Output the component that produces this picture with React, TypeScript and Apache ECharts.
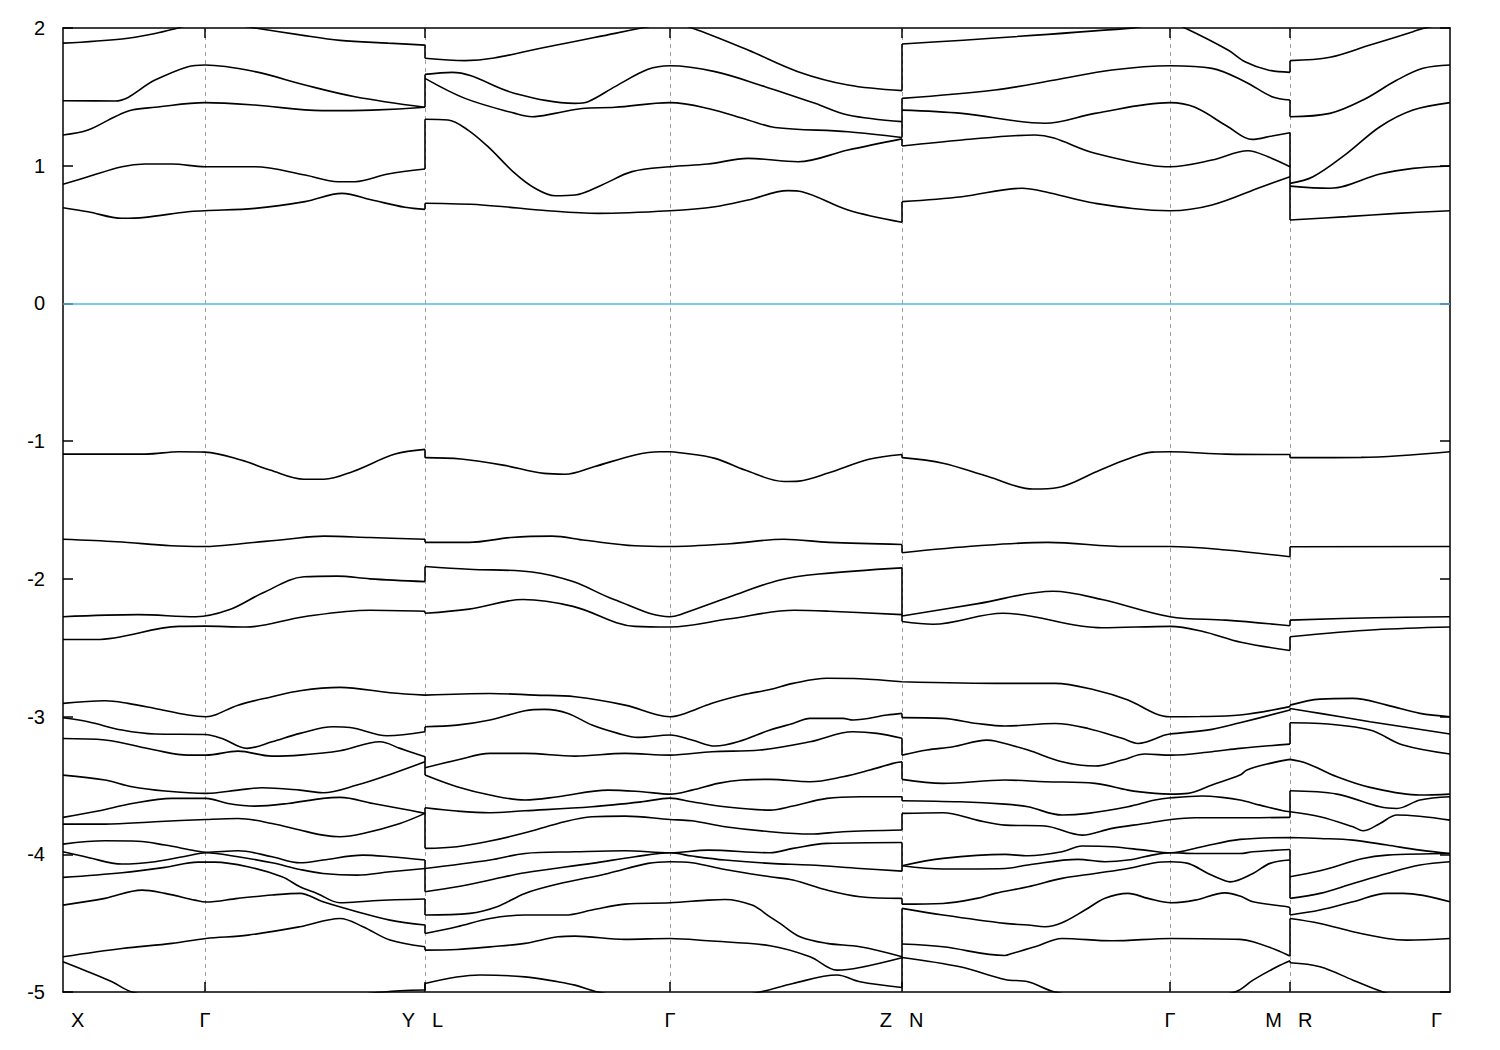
import React, { useEffect, useRef } from "react";
import * as echarts from "echarts";

type Pt = [number, number];

// k-path positions of the high-symmetry points
const kMin = 0;
const kMax = 13.87;
const symLines = [1.42, 3.62, 6.07, 8.39, 11.07, 12.27];
const xLabelText = ["X", "Γ", "Y", "L", "Γ", "Z", "N", "Γ", "M", "R", "Γ"];
const xLabelK = [0, 1.42, 3.62, 3.62, 6.07, 8.39, 8.39, 11.07, 12.27, 12.27, 13.87];
const yMin = -5;
const yMax = 2;
const fermiLevel = 0;

// Bands: each is four k-path pieces (X-Γ-Y, L-Γ-Z, N-Γ-M, R-Γ), energies in eV
const bandA: Pt[][] = [
  [[0, 1.89], [0.59, 1.92], [0.92, 1.96], [1.15, 2.0], [1.42, 2.05], [1.92, 2.0], [2.37, 1.95], [2.77, 1.91], [3.25, 1.89], [3.62, 1.876]],
  [[3.62, 1.78], [4.02, 1.763], [4.85, 1.864], [5.52, 1.961], [5.82, 2.005], [6.07, 2.04], [6.29, 2.0], [6.85, 1.84], [7.35, 1.683], [7.85, 1.586], [8.39, 1.545]],
  [[8.39, 1.884], [10.65, 1.997], [11.07, 2.04], [11.22, 2.0], [11.65, 1.84], [11.82, 1.755], [12.05, 1.695], [12.27, 1.678]],
  [[12.27, 1.763], [12.67, 1.787], [13.07, 1.876], [13.5, 1.973], [13.6, 1.997], [13.87, 2.04]],
];
const bandB: Pt[][] = [
  [[0, 1.472], [0.52, 1.47], [0.92, 1.622], [1.25, 1.719], [1.42, 1.731], [1.92, 1.683], [2.42, 1.586], [2.92, 1.501], [3.62, 1.424]],
  [[3.62, 1.663], [3.89, 1.678], [4.52, 1.525], [5.12, 1.453], [5.25, 1.465], [5.52, 1.574], [5.85, 1.7], [6.07, 1.726], [6.52, 1.683], [7.02, 1.574], [7.52, 1.453], [7.85, 1.368], [8.39, 1.32]],
  [[8.39, 1.489], [9.32, 1.55], [9.92, 1.622], [10.49, 1.695], [11.07, 1.726], [11.49, 1.707], [11.82, 1.61], [12.09, 1.501], [12.27, 1.477]],
  [[12.27, 1.356], [12.67, 1.38], [13.0, 1.477], [13.34, 1.622], [13.6, 1.707], [13.87, 1.731]],
];
const bandC: Pt[][] = [
  [[0, 1.223], [0.25, 1.259], [0.52, 1.356], [0.69, 1.404], [0.92, 1.424], [1.42, 1.458], [1.92, 1.441], [2.59, 1.4], [3.09, 1.404], [3.62, 1.424]],
  [[3.62, 1.634], [4.02, 1.489], [4.52, 1.38], [4.69, 1.356], [4.92, 1.38], [5.19, 1.416], [5.52, 1.424], [6.07, 1.458], [6.45, 1.416], [6.85, 1.332], [7.12, 1.278], [7.85, 1.247], [8.39, 1.205]],
  [[8.39, 1.404], [8.99, 1.38], [9.82, 1.308], [10.32, 1.38], [11.07, 1.458], [11.32, 1.424], [11.65, 1.283], [11.89, 1.191], [12.09, 1.216], [12.27, 1.24]],
  [[12.27, 0.872], [12.5, 0.92], [12.84, 1.09], [13.17, 1.283], [13.5, 1.404], [13.87, 1.458]],
];
const bandD: Pt[][] = [
  [[0, 0.865], [0.25, 0.92], [0.59, 0.993], [0.82, 1.012], [1.09, 1.012], [1.42, 0.993], [1.92, 0.993], [2.42, 0.932], [2.75, 0.884], [2.92, 0.884], [3.25, 0.94], [3.62, 0.976]],
  [[3.62, 1.337], [3.85, 1.332], [4.05, 1.259], [4.25, 1.138], [4.52, 0.944], [4.72, 0.836], [4.92, 0.782], [5.12, 0.787], [5.39, 0.86], [5.69, 0.957], [6.07, 0.993], [6.45, 1.012], [6.85, 1.053], [7.35, 1.029], [7.85, 1.114], [8.39, 1.195]],
  [[8.39, 1.143], [8.99, 1.187], [9.72, 1.223], [10.32, 1.09], [10.92, 0.998], [11.07, 0.993], [11.49, 1.041], [11.85, 1.109], [12.05, 1.065], [12.27, 0.993]],
  [[12.27, 0.852], [12.67, 0.836], [13.17, 0.94], [13.5, 0.981], [13.87, 0.998]],
];
const bandE: Pt[][] = [
  [[0, 0.695], [0.25, 0.666], [0.59, 0.618], [0.82, 0.625], [1.25, 0.666], [1.42, 0.673], [1.92, 0.69], [2.42, 0.739], [2.79, 0.799], [3.09, 0.751], [3.42, 0.698], [3.62, 0.683]],
  [[3.62, 0.727], [4.19, 0.715], [4.85, 0.673], [5.35, 0.654], [6.07, 0.673], [6.52, 0.702], [6.85, 0.751], [7.25, 0.819], [7.39, 0.811], [7.85, 0.678], [8.39, 0.589]],
  [[8.39, 0.739], [8.99, 0.775], [9.59, 0.836], [9.82, 0.811], [10.32, 0.727], [11.07, 0.673], [11.49, 0.715], [11.99, 0.848], [12.27, 0.92]],
  [[12.27, 0.606], [12.84, 0.63], [13.34, 0.654], [13.87, 0.673]],
];
const bandF: Pt[][] = [
  [[0, -1.094], [0.83, -1.094], [1.16, -1.077], [1.42, -1.08], [1.78, -1.137], [2.07, -1.21], [2.41, -1.277], [2.61, -1.277], [2.9, -1.22], [3.32, -1.094], [3.62, -1.06]],
  [[3.62, -1.12], [3.98, -1.13], [4.4, -1.174], [4.81, -1.234], [5.02, -1.24], [5.31, -1.186], [5.72, -1.1], [5.97, -1.077], [6.07, -1.077], [6.17, -1.084], [6.52, -1.125], [6.82, -1.21], [7.21, -1.293], [7.36, -1.29], [7.66, -1.23], [8.06, -1.132], [8.39, -1.097]],
  [[8.39, -1.12], [8.8, -1.16], [9.25, -1.257], [9.7, -1.348], [9.95, -1.337], [10.34, -1.22], [10.64, -1.132], [10.89, -1.08], [11.07, -1.077], [11.63, -1.094], [12.27, -1.097]],
  [[12.27, -1.12], [12.98, -1.118], [13.87, -1.077]],
];
const bandG: Pt[][] = [
  [[0, -1.712], [0.54, -1.73], [1.08, -1.76], [1.42, -1.765], [1.78, -1.745], [2.24, -1.712], [2.61, -1.69], [3.07, -1.7], [3.62, -1.712]],
  [[3.62, -1.735], [4.06, -1.735], [4.48, -1.7], [4.89, -1.69], [5.22, -1.72], [5.72, -1.76], [6.07, -1.765], [6.67, -1.745], [7.21, -1.712], [7.66, -1.735], [8.39, -1.75]],
  [[8.39, -1.81], [9.15, -1.76], [9.85, -1.735], [10.64, -1.765], [11.07, -1.765], [11.63, -1.79], [12.27, -1.84]],
  [[12.27, -1.767], [13.87, -1.765]],
];
const bandH: Pt[][] = [
  [[0, -2.275], [0.75, -2.26], [1.33, -2.275], [1.66, -2.225], [1.99, -2.105], [2.41, -1.985], [2.74, -1.98], [3.07, -2.0], [3.62, -2.02]],
  [[3.62, -1.91], [4.06, -1.93], [4.69, -1.95], [5.1, -2.02], [5.51, -2.15], [6.07, -2.275], [6.17, -2.26], [6.67, -2.13], [7.16, -2.01], [7.56, -1.965], [8.39, -1.92]],
  [[8.39, -2.27], [9.15, -2.18], [9.9, -2.09], [10.39, -2.15], [11.07, -2.275], [11.63, -2.3], [12.27, -2.34]],
  [[12.27, -2.3], [13.12, -2.282], [13.87, -2.275]],
];
const bandI: Pt[][] = [
  [[0, -2.44], [0.33, -2.44], [1.16, -2.345], [1.42, -2.343], [1.83, -2.35], [2.41, -2.275], [3.07, -2.228], [3.62, -2.235]],
  [[3.62, -2.25], [4.06, -2.22], [4.6, -2.15], [5.1, -2.2], [5.72, -2.345], [6.07, -2.35], [6.67, -2.29], [7.31, -2.228], [7.66, -2.235], [8.39, -2.26]],
  [[8.39, -2.31], [8.7, -2.33], [9.4, -2.25], [10.39, -2.355], [11.07, -2.345], [11.39, -2.38], [11.78, -2.46], [12.27, -2.52]],
  [[12.27, -2.42], [13.12, -2.37], [13.87, -2.35]],
];
const bandJ: Pt[][] = [
  [[0, -2.904], [0.42, -2.885], [0.65, -2.904], [0.92, -2.941], [1.25, -2.989], [1.43, -3.001], [1.52, -2.989], [1.75, -2.917], [2.09, -2.856], [2.37, -2.812], [2.77, -2.788], [3.27, -2.827], [3.62, -2.844]],
  [[3.62, -2.844], [4.27, -2.832], [4.72, -2.844], [5.12, -2.856], [5.62, -2.917], [5.95, -2.989], [6.07, -3.001], [6.22, -2.977], [6.49, -2.904], [6.79, -2.844], [7.07, -2.803], [7.3, -2.759], [7.64, -2.722], [7.97, -2.725], [8.39, -2.747]],
  [[8.39, -2.747], [9.42, -2.759], [9.92, -2.759], [10.32, -2.807], [10.65, -2.88], [10.92, -2.977], [11.07, -3.001], [11.37, -3.0], [11.77, -2.989], [12.27, -2.928]],
  [[12.27, -2.917], [12.57, -2.873], [12.9, -2.868], [13.24, -2.917], [13.57, -2.977], [13.87, -3.001]],
];
const bandK: Pt[][] = [
  [[0, -3.009], [0.25, -3.038], [0.59, -3.098], [0.92, -3.127], [1.42, -3.13], [1.59, -3.159], [1.84, -3.231], [2.09, -3.183], [2.37, -3.122], [2.7, -3.074], [2.87, -3.079], [3.24, -3.139], [3.62, -3.11]],
  [[3.62, -3.074], [3.94, -3.062], [4.27, -3.025], [4.62, -2.958], [4.82, -2.948], [5.05, -2.977], [5.29, -3.062], [5.55, -3.122], [5.75, -3.151], [6.07, -3.134], [6.29, -3.17], [6.52, -3.214], [6.75, -3.183], [7.07, -3.098], [7.3, -3.05], [7.47, -3.013], [7.8, -3.013], [7.9, -3.025], [8.24, -2.989], [8.39, -2.977]],
  [[8.39, -3.008], [8.8, -3.013], [9.14, -3.05], [9.42, -3.069], [9.92, -3.05], [10.25, -3.086], [10.59, -3.158], [10.75, -3.195], [11.02, -3.134], [11.07, -3.127], [11.49, -3.093], [11.77, -3.045], [12.27, -2.953]],
  [[12.27, -2.941], [12.57, -2.977], [13.07, -3.037], [13.87, -3.127]],
];
const bandL: Pt[][] = [
  [[0, -3.159], [0.42, -3.17], [0.92, -3.243], [1.25, -3.28], [1.43, -3.28], [1.75, -3.251], [2.09, -3.287], [2.37, -3.28], [2.77, -3.248], [3.17, -3.183], [3.37, -3.231], [3.62, -3.292]],
  [[3.62, -3.372], [3.94, -3.316], [4.27, -3.267], [4.62, -3.267], [5.12, -3.287], [5.62, -3.267], [6.07, -3.28], [6.49, -3.255], [6.97, -3.243], [7.47, -3.183], [7.9, -3.11], [8.14, -3.122], [8.39, -3.158]],
  [[8.39, -3.28], [8.64, -3.243], [8.9, -3.219], [9.24, -3.171], [9.32, -3.178], [9.65, -3.243], [9.99, -3.328], [10.32, -3.359], [10.59, -3.316], [10.82, -3.272], [11.08, -3.28], [11.49, -3.255], [11.77, -3.231], [12.27, -3.2]],
  [[12.27, -3.045], [12.57, -3.05], [13.07, -3.098], [13.4, -3.207], [13.87, -3.272]],
];
const bandM: Pt[][] = [
  [[0, -3.425], [0.42, -3.461], [0.69, -3.51], [1.02, -3.541], [1.43, -3.558], [1.75, -3.534], [1.99, -3.517], [2.37, -3.534], [2.6, -3.553], [2.94, -3.497], [3.27, -3.42], [3.62, -3.328]],
  [[3.62, -3.425], [3.94, -3.51], [4.27, -3.57], [4.62, -3.606], [4.95, -3.582], [5.45, -3.534], [5.79, -3.546], [6.07, -3.563], [6.29, -3.534], [6.55, -3.485], [6.79, -3.461], [7.07, -3.456], [7.47, -3.473], [7.8, -3.437], [8.07, -3.388], [8.3, -3.34], [8.39, -3.328]],
  [[8.39, -3.456], [8.8, -3.485], [9.42, -3.461], [9.82, -3.473], [10.32, -3.485], [10.65, -3.534], [10.92, -3.558], [11.08, -3.563], [11.25, -3.558], [11.49, -3.497], [11.77, -3.425], [11.84, -3.388], [12.07, -3.34], [12.27, -3.311]],
  [[12.27, -3.311], [12.44, -3.34], [12.74, -3.437], [13.07, -3.514], [13.57, -3.57], [13.87, -3.563]],
];
const bandN: Pt[][] = [
  [[0, -3.732], [0.35, -3.686], [0.69, -3.631], [1.09, -3.594], [1.43, -3.594], [1.65, -3.631], [1.92, -3.65], [2.25, -3.631], [2.6, -3.594], [2.77, -3.587], [3.1, -3.631], [3.37, -3.667], [3.62, -3.703]],
  [[3.62, -3.662], [3.94, -3.686], [4.27, -3.698], [4.62, -3.684], [5.29, -3.655], [5.79, -3.619], [6.07, -3.592], [6.29, -3.619], [6.62, -3.655], [7.07, -3.679], [7.3, -3.65], [7.64, -3.594], [7.97, -3.582], [8.39, -3.582]],
  [[8.39, -3.611], [8.97, -3.619], [9.42, -3.636], [9.65, -3.655], [9.99, -3.715], [10.25, -3.703], [10.65, -3.655], [10.92, -3.606], [11.08, -3.59], [11.39, -3.577], [11.59, -3.587], [11.77, -3.606], [11.97, -3.643], [12.2, -3.684], [12.27, -3.691]],
  [[12.27, -3.539], [12.74, -3.563], [13.17, -3.655], [13.34, -3.667], [13.57, -3.606], [13.87, -3.582]],
];
const bandO: Pt[][] = [
  [[0, -3.781], [0.42, -3.781], [0.92, -3.764], [1.43, -3.747], [1.75, -3.74], [2.09, -3.776], [2.37, -3.824], [2.6, -3.861], [2.77, -3.873], [3.0, -3.849], [3.37, -3.776], [3.62, -3.703]],
  [[3.62, -3.957], [3.94, -3.945], [4.27, -3.904], [4.62, -3.844], [4.95, -3.776], [5.29, -3.727], [5.62, -3.723], [6.07, -3.747], [6.29, -3.757], [6.62, -3.8], [7.07, -3.836], [7.47, -3.853], [7.8, -3.836], [8.39, -3.824]],
  [[8.39, -3.703], [8.8, -3.698], [9.14, -3.752], [9.42, -3.788], [9.82, -3.795], [10.19, -3.861], [10.49, -3.812], [10.82, -3.776], [11.08, -3.747], [11.32, -3.735], [11.77, -3.735], [12.27, -3.732]],
  [[12.27, -3.691], [12.57, -3.727], [12.9, -3.8], [13.0, -3.829], [13.17, -3.776], [13.34, -3.715], [13.87, -3.752]],
];
const bandP: Pt[][] = [
  [[0, -3.926], [0.42, -3.902], [0.75, -3.905], [1.02, -3.933], [1.32, -3.974], [1.43, -3.986], [1.75, -3.974], [2.09, -4.018], [2.37, -4.062], [2.6, -4.042], [3.0, -4.006], [3.27, -4.018], [3.62, -4.042]],
  [[3.62, -4.103], [4.27, -4.042], [4.62, -3.994], [5.12, -3.982], [5.62, -3.974], [6.07, -3.989], [6.45, -3.97], [7.07, -3.989], [7.3, -3.957], [7.64, -3.921], [8.39, -3.914]],
  [[8.39, -4.083], [8.8, -4.03], [9.42, -4.001], [9.65, -4.011], [9.99, -3.982], [10.19, -3.94], [10.49, -3.945], [10.82, -3.97], [11.08, -3.989], [11.39, -3.945], [11.77, -3.892], [12.27, -3.878]],
  [[12.27, -3.878], [12.57, -3.885], [12.9, -3.897], [13.24, -3.933], [13.57, -3.97], [13.87, -3.994]],
];
const bandQ: Pt[][] = [
  [[0, -3.982], [0.25, -4.023], [0.59, -4.071], [0.92, -4.054], [1.25, -4.011], [1.43, -3.989], [1.75, -4.018], [2.09, -4.062], [2.37, -4.11], [2.6, -4.139], [2.94, -4.151], [3.27, -4.127], [3.62, -4.103]],
  [[3.62, -4.272], [3.94, -4.236], [4.27, -4.187], [4.62, -4.134], [5.29, -4.066], [5.72, -4.018], [6.07, -3.989], [6.29, -4.013], [6.62, -4.042], [7.07, -4.066], [7.47, -4.078], [7.97, -4.103], [8.39, -4.122]],
  [[8.39, -4.083], [8.8, -4.107], [9.42, -4.103], [9.65, -4.078], [10.15, -4.037], [10.42, -4.054], [10.65, -4.042], [10.89, -4.006], [11.08, -3.989], [11.32, -3.994], [11.77, -3.994], [11.9, -3.982], [12.27, -3.965]],
  [[12.27, -4.163], [12.57, -4.12], [13.0, -4.03], [13.24, -4.006], [13.87, -3.994]],
];
const bandR: Pt[][] = [
  [[0, -4.168], [0.59, -4.134], [1.02, -4.095], [1.35, -4.057], [1.52, -4.057], [1.85, -4.091], [2.19, -4.163], [2.37, -4.236], [2.54, -4.284], [2.77, -4.352], [3.1, -4.337], [3.62, -4.325]],
  [[3.62, -4.441], [4.07, -4.429], [4.34, -4.381], [4.62, -4.284], [4.95, -4.216], [5.45, -4.139], [5.85, -4.066], [6.07, -4.054], [6.29, -4.062], [6.62, -4.11], [7.07, -4.163], [7.3, -4.187], [7.64, -4.26], [7.97, -4.308], [8.39, -4.32]],
  [[8.39, -4.362], [8.8, -4.357], [9.14, -4.32], [9.32, -4.284], [9.65, -4.236], [9.99, -4.175], [10.32, -4.139], [10.65, -4.103], [10.92, -4.061], [11.08, -4.054], [11.25, -4.066], [11.45, -4.139], [11.62, -4.192], [11.67, -4.2], [11.9, -4.139], [12.07, -4.066], [12.27, -4.042]],
  [[12.27, -4.32], [12.57, -4.284], [12.9, -4.212], [13.24, -4.139], [13.57, -4.078], [13.87, -4.054]],
];
const bandS: Pt[][] = [
  [[0, -4.369], [0.42, -4.32], [0.79, -4.26], [1.02, -4.284], [1.32, -4.333], [1.43, -4.347], [1.75, -4.32], [2.09, -4.296], [2.37, -4.284], [2.6, -4.345], [2.94, -4.417], [3.27, -4.478], [3.62, -4.514]],
  [[3.62, -4.575], [3.94, -4.526], [4.27, -4.466], [4.62, -4.441], [5.02, -4.441], [5.29, -4.405], [5.62, -4.362], [6.07, -4.352], [6.45, -4.333], [6.62, -4.328], [6.89, -4.369], [7.07, -4.454], [7.17, -4.502], [7.37, -4.599], [7.64, -4.647], [7.97, -4.672], [8.39, -4.744]],
  [[8.39, -4.393], [8.8, -4.441], [9.42, -4.502], [9.65, -4.514], [9.82, -4.526], [9.99, -4.497], [10.22, -4.405], [10.42, -4.32], [10.65, -4.284], [10.85, -4.32], [11.08, -4.352], [11.32, -4.333], [11.62, -4.28], [11.77, -4.303], [11.9, -4.345], [12.24, -4.381], [12.27, -4.388]],
  [[12.27, -4.441], [12.57, -4.405], [12.9, -4.345], [13.24, -4.284], [13.4, -4.284], [13.87, -4.345]],
];
const bandT: Pt[][] = [
  [[0, -4.744], [0.59, -4.684], [1.09, -4.647], [1.43, -4.611], [1.85, -4.587], [2.37, -4.526], [2.77, -4.466], [3.0, -4.526], [3.27, -4.623], [3.62, -4.672]],
  [[3.62, -4.696], [3.94, -4.691], [4.27, -4.672], [4.62, -4.647], [4.95, -4.599], [5.12, -4.594], [5.62, -4.618], [6.07, -4.611], [6.45, -4.628], [7.07, -4.664], [7.47, -4.744], [7.74, -4.841], [7.97, -4.822], [8.39, -4.751]],
  [[8.39, -4.652], [8.8, -4.672], [9.42, -4.735], [9.49, -4.72], [9.72, -4.672], [9.99, -4.611], [10.49, -4.628], [11.08, -4.611], [11.77, -4.618], [11.9, -4.635], [12.14, -4.696], [12.27, -4.739]],
  [[12.27, -4.466], [12.57, -4.502], [12.9, -4.562], [13.24, -4.611], [13.44, -4.623], [13.87, -4.611]],
];
const bandU: Pt[][] = [
  [[0, -4.78], [0.25, -4.853], [0.49, -4.926], [0.69, -5.0], [1.37, -5.1], [2.37, -5.08], [3.07, -5.01], [3.37, -4.991], [3.62, -4.986]],
  [[3.62, -4.938], [4.17, -4.877], [4.62, -4.89], [4.95, -4.926], [5.12, -4.95], [5.35, -5.0], [6.17, -5.1], [6.97, -5.0], [7.3, -4.938], [7.74, -4.877], [7.97, -4.926], [8.39, -4.967]],
  [[8.39, -4.749], [8.97, -4.817], [9.42, -4.909], [9.65, -4.926], [9.92, -5.0], [10.87, -5.12], [11.72, -5.0], [11.9, -4.914], [12.14, -4.817], [12.27, -4.773]],
  [[12.27, -4.788], [12.57, -4.817], [12.9, -4.914], [13.2, -5.0], [13.87, -5.15]],
];

const bandList: Pt[][][] = [
  bandA, bandB, bandC, bandD, bandE, bandF, bandG, bandH, bandI, bandJ, bandK,
  bandL, bandM, bandN, bandO, bandP, bandQ, bandR, bandS, bandT, bandU,
];

// label placement styles (alignment relative to the k point)
const xLabelAlign = ["left", "center", "right", "left", "center", "right", "left", "center", "right", "left", "right"];
const xLabelDx = [8, 0, -10, 7, 0, -10, 7, 0, -8, 8, -8];

const FONT = '"Liberation Sans", Arial, Helvetica, sans-serif';

export default function App() {
  const ref = useRef<HTMLDivElement | null>(null);

  useEffect(() => {
    if (!ref.current) return;
    const chart = echarts.init(ref.current, undefined, { renderer: "svg" });

    const bandSeries = bandList.map((pieces, i) => {
      const data: (number | null)[][] = [];
      pieces.forEach((p, j) => {
        if (j > 0) data.push([p[0][0], null]);
        p.forEach((pt) => data.push([pt[0], pt[1]]));
      });
      return {
        type: "line",
        name: "band" + i,
        xAxisIndex: 0,
        yAxisIndex: 0,
        data,
        smooth: 0.35,
        symbol: "none",
        showSymbol: false,
        connectNulls: false,
        silent: true,
        animation: false,
        lineStyle: { color: "#000", width: 1.6 },
        z: 3,
      };
    });

    const jumpData: (number | null)[][] = [];
    bandList.forEach((pieces) => {
      for (let j = 1; j < pieces.length; j++) {
        const a = pieces[j - 1][pieces[j - 1].length - 1];
        const b = pieces[j][0];
        jumpData.push([a[0], a[1]], [b[0], b[1]], [b[0], null]);
      }
    });

    const tickStyle = { color: "#000", width: 1.5 };
    const axisLineStyle = { show: true, onZero: false, lineStyle: { color: "#000", width: 1.5 } };

    chart.setOption({
      animation: false,
      backgroundColor: "#fff",
      grid: { left: 63, right: 50, top: 28, bottom: 58, containLabel: false },
      xAxis: [
        {
          type: "value",
          min: kMin,
          max: kMax,
          position: "bottom",
          axisLine: axisLineStyle,
          axisTick: { show: false },
          axisLabel: { show: false },
          splitLine: { show: false },
        },
        {
          type: "value",
          min: kMin,
          max: kMax,
          position: "top",
          axisLine: axisLineStyle,
          axisTick: { show: false },
          axisLabel: { show: false },
          splitLine: { show: false },
        },
      ],
      yAxis: [
        {
          type: "value",
          min: yMin,
          max: yMax,
          interval: 1,
          position: "left",
          axisLine: axisLineStyle,
          axisTick: { show: true, inside: true, length: 10, lineStyle: tickStyle },
          axisLabel: { show: true, color: "#000", fontSize: 20, fontFamily: FONT, margin: 18 },
          splitLine: { show: false },
        },
        {
          type: "value",
          min: yMin,
          max: yMax,
          interval: 1,
          position: "right",
          axisLine: axisLineStyle,
          axisTick: { show: true, inside: true, length: 10, lineStyle: tickStyle },
          axisLabel: { show: false },
          splitLine: { show: false },
        },
      ],
      series: [
        {
          type: "line",
          name: "jumps",
          xAxisIndex: 0,
          yAxisIndex: 0,
          data: jumpData,
          smooth: false,
          symbol: "none",
          showSymbol: false,
          connectNulls: false,
          silent: true,
          animation: false,
          lineStyle: { color: "#000", width: 1.6 },
          z: 3,
          markLine: {
            silent: true,
            animation: false,
            symbol: ["none", "none"],
            label: { show: false },
            z: 1,
            data: [
              ...symLines.map((k) => ({
                xAxis: k,
                lineStyle: { color: "#a0a0a0", width: 1, type: [4, 4] },
              })),
              { yAxis: fermiLevel, lineStyle: { color: "#56b4e9", width: 1.5, type: "solid" } },
            ],
          },
        },
        ...bandSeries,
      ],
    });

    const yBottom = chart.convertToPixel({ yAxisIndex: 0 }, yMin) as number;
    const yTop = chart.convertToPixel({ yAxisIndex: 0 }, yMax) as number;
    const labels: any[] = xLabelText.map((t, i) => {
      const x = (chart.convertToPixel({ xAxisIndex: 0 }, xLabelK[i]) as number) + xLabelDx[i];
      return {
        type: "text",
        x,
        y: yBottom + 28,
        silent: true,
        style: {
          text: t,
          fill: "#000",
          font: "20px " + FONT,
          textAlign: xLabelAlign[i],
          align: xLabelAlign[i],
          textVerticalAlign: "middle",
          verticalAlign: "middle",
        },
      };
    });
    // inward tick marks on the top and bottom frame at the high-symmetry points
    symLines.forEach((k) => {
      const x = chart.convertToPixel({ xAxisIndex: 0 }, k) as number;
      labels.push(
        { type: "line", silent: true, z: 10, shape: { x1: x, y1: yBottom, x2: x, y2: yBottom - 10 }, style: { stroke: "#000", lineWidth: 1.5 } },
        { type: "line", silent: true, z: 10, shape: { x1: x, y1: yTop, x2: x, y2: yTop + 10 }, style: { stroke: "#000", lineWidth: 1.5 } }
      );
    });
    chart.setOption({ graphic: labels });

    return () => {
      chart.dispose();
    };
  }, []);

  return (
    <div
      ref={ref}
      style={{ position: "fixed", left: 0, top: 0, width: 1500, height: 1050, background: "#fff" }}
    />
  );
}
